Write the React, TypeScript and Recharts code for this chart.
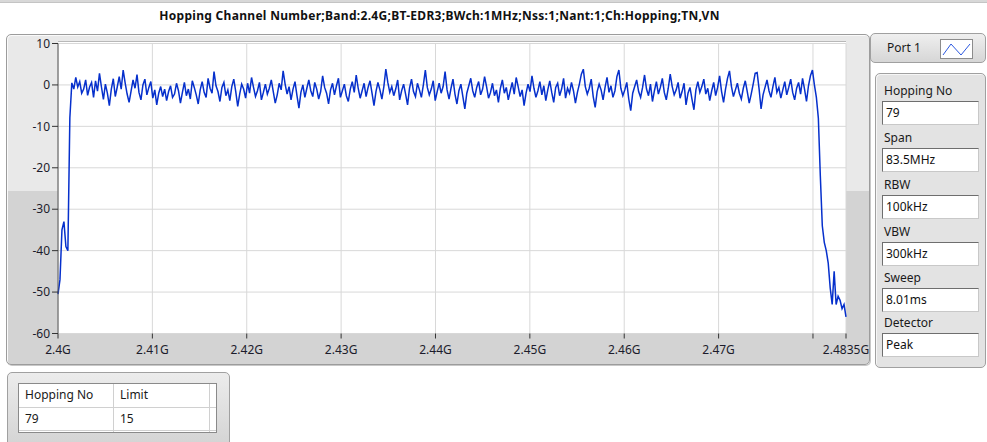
import { LineChart, Line, XAxis, YAxis, CartesianGrid } from "recharts";

// sweep: 400 points from 2.4 GHz to 2.4835 GHz
const startGHz = 2.4;
const stopGHz = 2.4835;

const leftEdge = [-50.5, -47, -35, -33, -39, -40, -8];

const plateau = [
  0.5, -1, 1.8, -0.5, 0.8, -2, -1, 1.2, -2.5, -0.5, 0.6, -3, 1, -1.5, 2.8, -0.5, -3.5, 0.2, -2, -5,
  -1, 1.5, -2.8, -0.5, 2, -1, 3.6, 0.5, -2.2, -4.2, -1.5, 1.2, -0.8, 2.5, -1.8, -3.6, 0, 1.4, -2.4, -0.6,
  0.8, -3.2, -1.2, -4.8, -2, -0.4, -2.8, -1, -3.8, -1.6, -0.2, -3, -2.2, 0.4, -1.4, -4.4, -1.8, 0.6, -2.6, -1,
  -3.4, 1, -0.6, -2.4, -4.6, -1.2, 0.8, -1.8, -3, 1.6, -0.8, -2, 3.2, -0.2, -1.6, -4, -0.6, 0.6, -2.6, -1.2,
  -3.8, -0.4, 1.4, -1.6, -5.2, -2.2, 0.2, -1, -3.2, 0.4, -2, 1.8, -0.6, -2.8, -1.4, 0.6, -3.6, -1.8, 0.2, -2.2,
  -0.8, 1.2, -1.6, -4.4, -2.4, 0.4, -1.2, 3.4, 0.2, -2.2, -0.4, -3.6, -1, 0.8, -2.6, -5.6, -1.8, 0, -3, -0.8,
  1.2, -1.4, -2.8, 0.6, -1, -3.4, -1.6, 2.2, -0.6, -2, -4.6, -1.2, 0.4, -2.4, -0.2, 1.6, -3, -1.4, 0.2, -2.6,
  -4, -1, 0.8, -1.8, 2.4, -0.8, -3.2, -1.4, 0.4, -2.8, -0.6, 1, -2, -5, -1.6, 0.6, -1.2, -3.4, -0.4, 3.8,
  0.6, -1.8, -0.4, -2.6, -1, 1.2, -3.6, -1.4, 0.2, -2.2, -4.8, -0.8, 1.4, -1.6, -2.8, 0.4, -1.2, -3, 0, 3.6,
  -0.6, -2.4, -1, 1, -3.8, -1.6, 0.4, -2, -0.4, 3.2, -1.2, -3.4, -0.8, 1.4, -2.2, -4.6, -1.4, 0.2, -2.8, -5.8,
  -2, -0.2, 1.6, -1.4, -3, -0.6, 0.8, -2.4, -1, 2, -0.4, -3.2, -1.8, 0.4, -2.6, -1.2, -4.2, -0.8, 1.2, -2,
  -0.6, -3.6, -1.4, 0.6, -2.2, 1.8, -0.4, -2.8, -1.2, -5, -2, 0.2, -1.6, 2.2, -0.8, -3, -1.4, 0.8, -2.4, -0.2,
  -3.8, -1.2, 1, -1.8, -4.2, -0.6, 0.4, -2.6, -1, 1.6, -3.2, -0.8, -2, 0.6, -1.4, -4.4, -1.8, 0.2, 2.6, 3.8,
  -0.4, -2.2, -0.8, 1.4, -2.8, -5.4, -1.6, 0.2, -1.2, -3.6, -0.6, 1.8, -1.8, -0.2, -3, -1.4, 2, 3.6, -0.8, -2.6,
  -1.2, 0.6, -3.4, -6.2, -2, -0.4, 1.2, -1.6, -3, -0.6, 2.4, -1, -2.6, 0.2, -4, -1.4, 0.8, -2.2, -0.6, 1.6,
  -1.8, -3.6, -0.8, 2.6, -0.4, -2.4, -1.2, 0.6, -3.2, -1.6, 0.4, -4.8, -2, -0.6, -3.4, -6, -1.2, 0.8, -1.8, -0.4,
  1.4, -2.2, -0.8, -3.8, -1.4, 0.6, -2.6, -0.6, 2.2, -1.6, -4.2, -1, 1.6, 3.4, -0.4, -2.8, -1.2, 0.4, -2, -3.4,
  -0.8, 1, -1.6, -4.4, -2.2, 0.2, 2.8, 3, -1, -5.8, -2.4, -0.6, 1.2, -1.4, -3, -0.4, 1.8, -1.8, -0.6, -3.2,
  -1.2, 0.8, -2.4, -0.6, 1.4, -1.8, -3.6, -0.8, 0.6, -2.2, 1.6, -1, -4, -0.2, 2.2, 3.6,
];

const rightEdge = [0, -3, -8, -22, -34, -38, -40, -43, -49, -53, -45, -53, -51, -52, -54, -53, -56];

const xTicks = [2.4, 2.41, 2.42, 2.43, 2.44, 2.45, 2.46, 2.47, 2.48, 2.4835];
const xTickLabels = ["2.4G", "2.41G", "2.42G", "2.43G", "2.44G", "2.45G", "2.46G", "2.47G", "", "2.4835G"];
const yTicks = [-60, -50, -40, -30, -20, -10, 0, 10];

const settingLabels = ["Hopping No", "Span", "RBW", "VBW", "Sweep", "Detector"];
const settingValues = ["79", "83.5MHz", "100kHz", "300kHz", "8.01ms", "Peak"];

const limitHeaders = ["Hopping No", "Limit"];
const limitRow = ["79", "15"];

const title = "Hopping Channel Number;Band:2.4G;BT-EDR3;BWch:1MHz;Nss:1;Nant:1;Ch:Hopping;TN,VN";

const levels = [...leftEdge, ...plateau, ...rightEdge];
const step = (stopGHz - startGHz) / (levels.length - 1);
const data = levels.map((v, i) => ({ f: startGHz + i * step, level: v }));

const font = "'Noto Sans', 'DejaVu Sans', sans-serif";
const tickStyle = { fill: "#1c1c2c", fontSize: 12, fontFamily: font };

function Box({ left, top, width, height, style, children }: any) {
  return (
    <div style={{ position: "absolute", left, top, width, height, boxSizing: "border-box", ...style }}>
      {children}
    </div>
  );
}

export default function App() {
  const boxTops = [101, 148, 195, 242, 288, 333];
  return (
    <div
      style={{
        position: "absolute",
        left: 0,
        top: 0,
        width: 987,
        height: 442,
        background: "#fff",
        overflow: "hidden",
        fontFamily: font,
        fontSize: 12,
        color: "#1a1a1a",
      }}
    >
      <Box left={0} top={0} width={987} height={3} style={{ background: "#d8d8d8", borderBottom: "1px solid #c4c4c4" }} />
      <div
        style={{
          position: "absolute",
          left: 0,
          top: 8,
          width: 879,
          textAlign: "center",
          fontWeight: 700,
          lineHeight: "16px",
          letterSpacing: "0.3px",
          color: "#111",
        }}
      >
        {title}
      </div>

      {/* chart frame */}
      <Box
        left={6}
        top={34}
        width={864}
        height={331}
        style={{
          border: "1px solid #9c9c9c",
          borderRadius: 5,
          background: "linear-gradient(to bottom, #e9e9e9 0px, #e9e9e9 156px, #d3d3d3 156px, #d3d3d3 100%)",
          boxShadow: "inset 1px 1px 0 #fafafa, 1px 1px 0 #c8c8c8",
        }}
      />
      <Box left={58} top={41} width={788} height={293} style={{ background: "#fff", borderTop: "1px solid #b8b8b8" }} />

      <div style={{ position: "absolute", left: 0, top: 0 }}>
        <LineChart width={900} height={380} data={data} margin={{ top: 43.5, right: 54, bottom: 16.5, left: 0 }}>
          <CartesianGrid stroke="#d8d8d8" strokeWidth={1} />
          <XAxis
            dataKey="f"
            type="number"
            domain={[startGHz, stopGHz]}
            ticks={xTicks}
            interval={0}
            tickFormatter={(v: number) => xTickLabels[xTicks.indexOf(v)] ?? ""}
            tick={tickStyle}
            tickSize={5}
            tickMargin={7}
            tickLine={{ stroke: "#333" }}
            axisLine={false}
            height={30}
          />
          <YAxis
            type="number"
            domain={[-60, 10]}
            ticks={yTicks}
            interval={0}
            tick={tickStyle}
            tickSize={6}
            tickMargin={2}
            tickLine={{ stroke: "#333" }}
            axisLine={{ stroke: "#555" }}
            width={58}
          />
          <Line
            type="linear"
            dataKey="level"
            stroke="#0630cc"
            strokeWidth={1.5}
            strokeLinejoin="miter"
            dot={false}
            isAnimationActive={false}
          />
        </LineChart>
      </div>

      {/* Port 1 button */}
      <Box
        left={870}
        top={33}
        width={116}
        height={30}
        style={{
          border: "1px solid #a0a0a0",
          borderRadius: 5,
          background: "linear-gradient(to bottom, #efefef, #d6d6d6)",
        }}
      />
      <div style={{ position: "absolute", left: 887, top: 40, lineHeight: "16px", color: "#1a1a1a" }}>Port 1</div>
      <Box left={940} top={39} width={33} height={20} style={{ background: "#fff", border: "1px solid #8c8c8c" }}>
        <svg width={31} height={18} style={{ position: "absolute", left: 0, top: 0 }}>
          <polyline points="2,15 10,4 20,15 29,4" fill="none" stroke="#2b58e0" strokeWidth={1} />
        </svg>
      </Box>

      {/* settings panel */}
      <Box
        left={875}
        top={73}
        width={111}
        height={295}
        style={{
          border: "1px solid #a0a0a0",
          borderRadius: 5,
          background: "#e3e3e3",
          boxShadow: "inset 1px 1px 0 #f6f6f6",
        }}
      />
      {settingLabels.map((lab, i) => (
        <div key={lab}>
          <div style={{ position: "absolute", left: 884, top: boxTops[i] - 18, lineHeight: "16px", color: "#1a1a1a" }}>
            {lab}
          </div>
          <Box
            left={882}
            top={boxTops[i]}
            width={97}
            height={24}
            style={{
              background: "#fff",
              borderTop: "1px solid #6e6e6e",
              borderLeft: "1px solid #6e6e6e",
              borderRight: "1px solid #c8c8c8",
              borderBottom: "1px solid #c8c8c8",
              paddingLeft: 3,
              lineHeight: "22px",
              color: "#111",
            }}
          >
            {settingValues[i]}
          </Box>
        </div>
      ))}

      {/* limit table */}
      <Box
        left={7}
        top={372}
        width={223}
        height={80}
        style={{
          border: "1px solid #a0a0a0",
          borderRadius: 5,
          background: "linear-gradient(to bottom, #ececec, #d2d2d2)",
        }}
      />
      <Box left={18} top={383} width={199} height={50} style={{ background: "#fff", border: "1px solid #8a8a8a" }} />
      <Box left={113} top={384} width={1} height={48} style={{ background: "#d0d0d0" }} />
      <Box left={209} top={384} width={1} height={48} style={{ background: "#d0d0d0" }} />
      <Box left={19} top={407} width={197} height={1} style={{ background: "#d0d0d0" }} />
      <Box left={19} top={430} width={197} height={1} style={{ background: "#d0d0d0" }} />
      {limitHeaders.map((h, i) => (
        <div key={h} style={{ position: "absolute", left: i === 0 ? 25 : 120, top: 387, lineHeight: "16px" }}>
          {h}
        </div>
      ))}
      {limitRow.map((v, i) => (
        <div key={i} style={{ position: "absolute", left: i === 0 ? 25 : 120, top: 411, lineHeight: "16px" }}>
          {v}
        </div>
      ))}
    </div>
  );
}
